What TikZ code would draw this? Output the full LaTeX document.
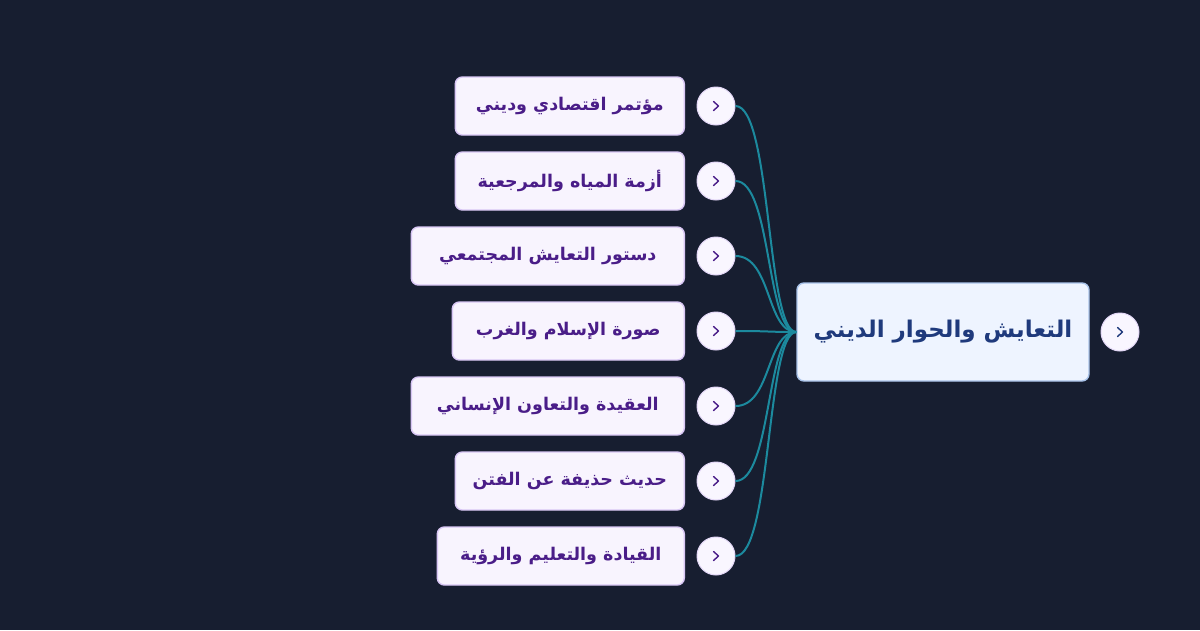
\documentclass[tikz,border=0pt]{standalone}
\usepackage{fontspec}
\newfontfamily\arabicfont[Script=Arabic]{DejaVu Sans}
\TeXXeTstate=1
\definecolor{bg}{HTML}{171E30}
\definecolor{rootfill}{HTML}{EEF4FF}
\definecolor{rootdraw}{HTML}{A9C3EA}
\definecolor{roottext}{HTML}{1F3A7C}
\definecolor{kidfill}{HTML}{F8F4FE}
\definecolor{kiddraw}{HTML}{D8C6F4}
\definecolor{kidtext}{HTML}{4A1D88}
\definecolor{circfill}{HTML}{F9F6FF}
\definecolor{circdraw}{HTML}{E2D6F6}
\definecolor{conn}{HTML}{1C8A9E}
\tikzset{
  rootbox/.style={draw=rootdraw, line width=1.4pt, fill=rootfill, rounded corners=7pt,
    minimum width=292pt, minimum height=98pt, inner sep=0pt, text=roottext,
    font=\arabicfont\bfseries\fontsize{23}{27}\selectfont},
  kidbox/.style={draw=kiddraw, line width=1.4pt, fill=kidfill, rounded corners=7pt,
    minimum height=58pt, inner sep=0pt, text=kidtext, anchor=east,
    font=\arabicfont\bfseries\fontsize{17.5}{21}\selectfont},
  circ/.style={circle, draw=circdraw, line width=1pt, fill=circfill, minimum size=38pt, inner sep=0pt},
  chev/.style={line width=1.4pt, line cap=round, line join=round},
  link/.style={draw=conn, line width=2pt},
}
\begin{document}
\begin{tikzpicture}[x=1pt,y=-1pt]
\fill[bg] (0,0) rectangle (1200,630);
\useasboundingbox (0,0) rectangle (1200,630);

% root
\node[rootbox] (root) at (943,332) {\raisebox{2pt}{\beginR التعايش والحوار الديني\endR}};
\node[circ] (rc) at (1120,332) {};
\draw[chev, roottext] ([shift={(-2.5,-4.5)}]rc.center) -- ([shift={(2.5,0)}]rc.center) -- ([shift={(-2.5,4.5)}]rc.center);

% children
\foreach \i/\y/\w/\t in {
  1/106/229/{مؤتمر اقتصادي وديني},
  2/181/229/{أزمة المياه والمرجعية},
  3/256/273/{دستور التعايش المجتمعي},
  4/331/232/{صورة الإسلام والغرب},
  5/406/273/{العقيدة والتعاون الإنساني},
  6/481/229/{حديث حذيفة عن الفتن},
  7/556/247/{القيادة والتعليم والرؤية}}{
  \node[kidbox, minimum width=\w pt] (k\i) at (685,\y) {\raisebox{1.5pt}{\beginR\t\endR}};
  \node[circ] (c\i) at (716,\y) {};
  \draw[chev, kidtext] ([shift={(-2.5,-4.5)}]c\i.center) -- ([shift={(2.5,0)}]c\i.center) -- ([shift={(-2.5,4.5)}]c\i.center);
  \draw[link] (c\i.east) .. controls +(36,0) and +(-30,0) .. (root.west);
}
\end{tikzpicture}
\end{document}
